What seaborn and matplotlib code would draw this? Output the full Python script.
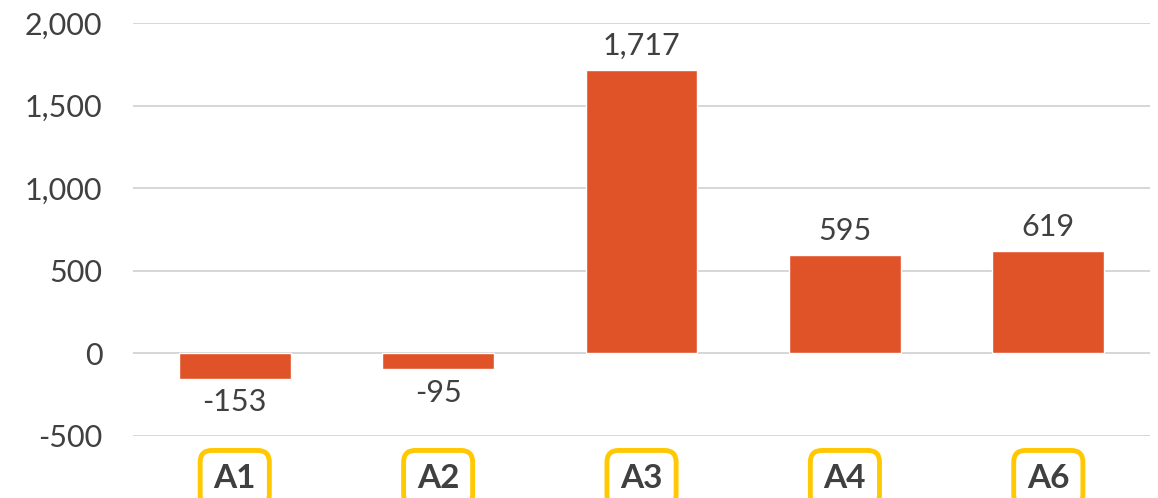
import matplotlib
matplotlib.use("Agg")
import matplotlib.pyplot as plt
import seaborn as sns
import pandas as pd

# chart values
categories = ["A1", "A2", "A3", "A4", "A6"]
values = [-153, -95, 1717, 595, 619]
yticks = [-500, 0, 500, 1000, 1500, 2000]

BAR_COLOR = "#E05328"
TEXT_COLOR = "#404040"
BOX_COLOR = "#FFC800"

sns.set_theme(style="white")
plt.rcParams["font.family"] = ["Lato", "DejaVu Sans"]

df = pd.DataFrame({"cat": categories, "val": values})

fig = plt.figure(figsize=(11.58, 4.98), dpi=100)
ax = fig.add_axes([0.1149, 0.1245, 0.8782, 0.8293])

sns.barplot(data=df, x="cat", y="val", color=BAR_COLOR, width=0.55,
            saturation=1, ax=ax, zorder=3)

ax.set_ylim(-500, 2000)
ax.set_yticks(yticks)
ax.set_yticklabels([f"{v:,}" for v in yticks], fontsize=22, color=TEXT_COLOR)
ax.yaxis.grid(True, color="#D0D0D0", linewidth=1.2, zorder=0)
ax.set_axisbelow(True)
for s in ax.spines.values():
    s.set_visible(False)
ax.tick_params(axis="y", length=0, pad=22)
ax.tick_params(axis="x", length=0, pad=20)
ax.set_xlabel("")
ax.set_ylabel("")

for lbl in ax.get_xticklabels():
    lbl.set_fontsize(24)
    lbl.set_fontweight("bold")
    lbl.set_color(TEXT_COLOR)
    lbl.set_bbox(dict(boxstyle="round,pad=0.4,rounding_size=0.35",
                      facecolor="white", edgecolor=BOX_COLOR, linewidth=3.5))

ax.bar_label(ax.containers[0], labels=[f"{v:,}" for v in values],
             padding=7, fontsize=22, color=TEXT_COLOR)

fig.savefig("out.png", dpi=100)
